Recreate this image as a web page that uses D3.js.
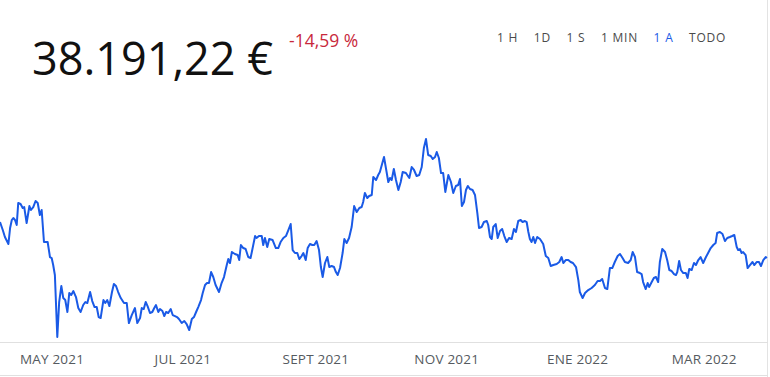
<!DOCTYPE html>
<html>
<head>
<meta charset="utf-8">
<script src="https://cdn.jsdelivr.net/npm/d3@7/dist/d3.min.js"></script>
<style>
body { margin: 0; background: #fff; }
svg { display: block; font-family: 'Open Sans', sans-serif; }
</style>
</head>
<body>
<script>
// cabecera
var precioActual = '38.191,22 €';
var variacion = '-14,59 %';
var rangos = ['1 H', '1D', '1 S', '1 MIN', '1 A', 'TODO'];
var rangoActivo = '1 A';

// eje x
var etiquetasMes = ['MAY 2021', 'JUL 2021', 'SEPT 2021', 'NOV 2021', 'ENE 2022', 'MAR 2022'];
var fechasMes = ['2021-05-01', '2021-07-01', '2021-09-01', '2021-11-01', '2022-01-01', '2022-03-01'];
var inicio = '2021-04-07', fin = '2022-03-31';

// serie: dias desde el inicio y precio en euros
var dias = [0, 1.3, 2.3, 3.9, 4.7, 5.5, 6.2, 7.0, 7.8, 8.5, 9.6, 10.6, 11.3, 12.4, 13.7, 14.4, 15.5, 16.6, 17.6, 18.6,
    19.4, 20.5, 22.2, 23.3, 24.1, 24.8, 25.6, 26.7, 27.6, 28.6, 29.5, 30.4, 31.4, 32.3, 33.2, 34.2, 35.4, 36.5, 37.6, 38.8,
    39.8, 40.7, 42.0, 43.0, 44.1, 45.1, 46.0, 46.9, 48.2, 49.1, 50.0, 51.0, 52.2, 53.1, 54.1, 55.1, 56.3, 57.8, 59.1, 60.1,
    61.4, 62.9, 64.0, 65.3, 66.1, 67.0, 67.9, 68.8, 69.9, 71.0, 71.9, 72.7, 73.8, 74.6, 75.7, 76.6, 77.4, 78.4, 79.6, 80.5,
    81.6, 82.5, 83.4, 84.7, 85.9, 87.0, 88.2, 89.4, 90.4, 91.4, 92.4, 93.7, 94.5, 95.6, 96.5, 97.4, 98.4, 99.4, 100.5, 102.1,
    103.3, 104.4, 105.7, 106.4, 107.2, 108.1, 109.5, 110.8, 111.5, 112.3, 113.4, 114.5, 115.7, 116.8, 117.3, 118.9, 119.6, 120.7, 122.0, 122.7,
    123.5, 124.6, 125.5, 127.1, 128.6, 129.7, 130.8, 132.1, 133.3, 134.4, 135.5, 136.4, 137.5, 138.6, 139.5, 140.6, 141.4, 142.5, 143.4, 144.5,
    145.6, 146.5, 147.6, 148.7, 149.6, 150.4, 151.5, 152.6, 153.5, 154.6, 155.7, 156.6, 157.4, 158.5, 159.7, 160.5, 161.6, 162.7, 163.9, 165.1,
    166.3, 167.5, 168.6, 169.3, 170.1, 171.2, 172.1, 173.3, 174.0, 175.3, 176.3, 177.1, 179.0, 180.2, 181.0, 181.8, 182.6, 183.6, 184.6, 185.7,
    186.8, 187.7, 189.2, 190.8, 191.9, 193.0, 194.2, 195.4, 196.6, 197.6, 198.6, 199.6, 200.8, 201.7, 202.8, 203.6, 204.6, 205.6, 206.6, 207.6,
    209.0, 210.2, 211.3, 212.5, 213.6, 214.4, 215.3, 216.3, 217.2, 218.1, 219.1, 220.3, 221.4, 222.5, 223.3, 224.5, 225.6, 226.9, 227.6, 228.4,
    229.2, 229.9, 231.1, 232.0, 233.1, 234.1, 235.1, 236.2, 237.3, 238.5, 239.6, 240.5, 241.6, 242.7, 243.6, 244.7, 245.5, 246.3, 247.0, 247.8,
    248.6, 249.4, 250.4, 251.7, 253.2, 254.4, 255.6, 256.7, 257.9, 259.5, 260.7, 261.8, 262.6, 263.7, 264.9, 266.0, 267.1, 268.5, 269.6, 270.3,
    271.6, 272.7, 274.2, 275.8, 277.3, 278.6, 279.7, 280.7, 282.0, 283.1, 284.3, 285.4, 286.6, 287.9, 289.0, 290.2, 291.3, 292.8, 294.0, 294.9,
    296.0, 297.0, 298.3, 299.1, 299.8, 301.0, 301.9, 302.6, 303.8, 304.8, 305.8, 306.8, 307.6, 308.7, 310.0, 311.0, 312.0, 313.1, 314.2, 315.1,
    315.7, 316.6, 317.4, 318.5, 319.7, 320.5, 321.3, 322.4, 323.5, 324.4, 325.5, 326.6, 327.8, 329.1, 330.1, 331.3, 332.5, 333.6, 334.3, 335.6,
    336.8, 337.9, 339.0, 340.2, 341.3, 342.3, 343.4, 344.1, 344.9, 345.7, 346.4, 347.6, 348.5, 349.6, 350.8, 351.6, 352.7, 353.8, 354.7, 355.8,
    356.9, 357.5];
var precios = [44710, 43260, 42000, 40730, 43630, 45080, 45440, 45080, 44170, 48160, 47980, 47250, 47430, 44530, 47610, 46890, 47430, 48520, 48160, 45980,
    46890, 41090, 41090, 38370, 38190, 36920, 35110, 23880, 30220, 33120, 30940, 30580, 28410, 31850, 31490, 32210, 31120, 29130, 28410, 29680,
    30220, 30040, 32030, 30400, 29310, 29310, 27500, 27320, 30580, 30040, 30580, 29490, 32030, 33480, 33120, 32030, 30940, 30040, 30040, 26410,
    27860, 29130, 26410, 27320, 29130, 28950, 30220, 29490, 28230, 28410, 29130, 29680, 28410, 28950, 28590, 27680, 28410, 28230, 28950, 27860,
    27680, 27500, 27140, 26410, 26780, 26230, 25150, 27140, 27500, 28410, 29310, 30580, 31850, 33300, 33660, 33660, 35650, 34750, 33300, 32030,
    33660, 34750, 36920, 38010, 37290, 39280, 38920, 38730, 37830, 40550, 40000, 39820, 38370, 38190, 39100, 42180, 41820, 42180, 42180, 40550,
    41820, 40180, 41630, 41450, 40000, 40000, 41090, 41820, 42180, 43260, 44350, 39640, 39100, 39100, 38010, 38550, 39100, 37830, 40000, 40730,
    40550, 40550, 41270, 39640, 36560, 34750, 37290, 38370, 36560, 36740, 36560, 35650, 35110, 36380, 39100, 41630, 40910, 41820, 43810, 47610,
    46530, 47250, 47430, 48340, 49970, 49060, 49430, 49610, 52870, 52320, 53230, 53770, 56490, 53770, 51960, 52690, 52320, 54320, 52320, 50510,
    51960, 53770, 53590, 52690, 54680, 54140, 53050, 53230, 54680, 58120, 59750, 56860, 56670, 56130, 56490, 57400, 56310, 53590, 53590, 50150,
    53230, 51960, 49970, 51240, 51420, 52510, 47610, 48340, 50510, 51240, 50690, 50510, 49610, 46350, 43630, 43810, 44710, 44900, 44170, 42000,
    41630, 43810, 44350, 41820, 43080, 43450, 42180, 41090, 41820, 41630, 43450, 42900, 44900, 45080, 44710, 44900, 44710, 42900, 41630, 41090,
    42000, 40910, 42000, 41630, 40730, 38550, 38190, 36740, 36920, 37100, 37470, 38370, 37290, 37830, 37830, 37470, 37290, 36560, 34200, 32030,
    30940, 31850, 32390, 32760, 33300, 34020, 34020, 34390, 32760, 32570, 36380, 36380, 37470, 38550, 38920, 38190, 37470, 37290, 37830, 39280,
    38370, 35650, 35470, 35290, 33840, 32570, 33660, 32940, 33840, 34570, 34750, 33840, 37470, 39820, 39280, 37830, 36020, 35840, 35290, 35110,
    35650, 37650, 36020, 35470, 35470, 34570, 36200, 36020, 37290, 36920, 37830, 38370, 37290, 38370, 39100, 40000, 40550, 40910, 42720, 42900,
    42540, 41270, 41820, 42000, 42180, 42360, 40180, 39640, 39820, 39100, 39280, 38730, 36380, 36920, 37470, 36920, 37470, 37470, 36740, 37830,
    38370, 38191.22];

var width = 770,
    height = 377;

var svg = d3.select('body').append('svg')
    .attr('width', width)
    .attr('height', height);

var parse = d3.utcParse('%Y-%m-%d');
var t0 = parse(inicio);

var datos = dias.map(function (d, i) {
    return { fecha: d3.utcHour.offset(t0, Math.round(d * 24)), precio: precios[i] };
});

var x = d3.scaleUtc()
    .domain([t0, parse(fin)])
    .range([0, 768]);

var y = d3.scaleLinear()
    .domain([22000, 62000])
    .range([347.4, 126.6]);

// bordes
svg.append('line')
    .attr('x1', 767.5).attr('x2', 767.5)
    .attr('y1', 0).attr('y2', height)
    .style('stroke', '#e3e3e3');
svg.append('line')
    .attr('x1', 0).attr('x2', 768)
    .attr('y1', 342.5).attr('y2', 342.5)
    .style('stroke', '#e0e0e0');
svg.append('line')
    .attr('x1', 0).attr('x2', 768)
    .attr('y1', 375.5).attr('y2', 375.5)
    .style('stroke', '#e0e0e0');

// linea de precio
var linea = d3.line()
    .x(function (d) { return x(d.fecha); })
    .y(function (d) { return y(d.precio); });

svg.append('path')
    .datum(datos)
    .attr('d', linea)
    .style('fill', 'none')
    .style('stroke', '#1a5ae6')
    .style('stroke-width', 2)
    .style('stroke-linejoin', 'round');

// eje x
var eje = svg.append('g')
    .attr('transform', 'translate(0,342)')
    .call(d3.axisBottom(x)
        .tickValues(fechasMes.map(parse))
        .tickSize(0)
        .tickPadding(12)
        .tickFormat(function (d, i) { return etiquetasMes[i]; }));
eje.select('.domain').remove();
eje.selectAll('text')
    .attr('dy', '0.71em')
    .style('font-family', "'Open Sans', sans-serif")
    .style('font-size', '13.5px')
    .style('letter-spacing', '0.2px')
    .style('fill', '#555a60');

// cabecera
svg.append('text')
    .attr('x', 32)
    .attr('y', 75)
    .style('font-size', '45px')
    .style('fill', '#111')
    .text(precioActual);

svg.append('text')
    .attr('x', 289)
    .attr('y', 47)
    .style('font-size', '17.5px')
    .style('fill', '#c8283c')
    .text(variacion);

var bx = 497;
rangos.forEach(function (r) {
    var t = svg.append('text')
        .attr('x', bx)
        .attr('y', 42)
        .style('font-size', '12px')
        .style('letter-spacing', '0.8px')
        .style('fill', r === rangoActivo ? '#1a5ae6' : '#4a4a4a')
        .text(r);
    bx += t.node().getComputedTextLength() + 15.5;
});
</script>
</body>
</html>
